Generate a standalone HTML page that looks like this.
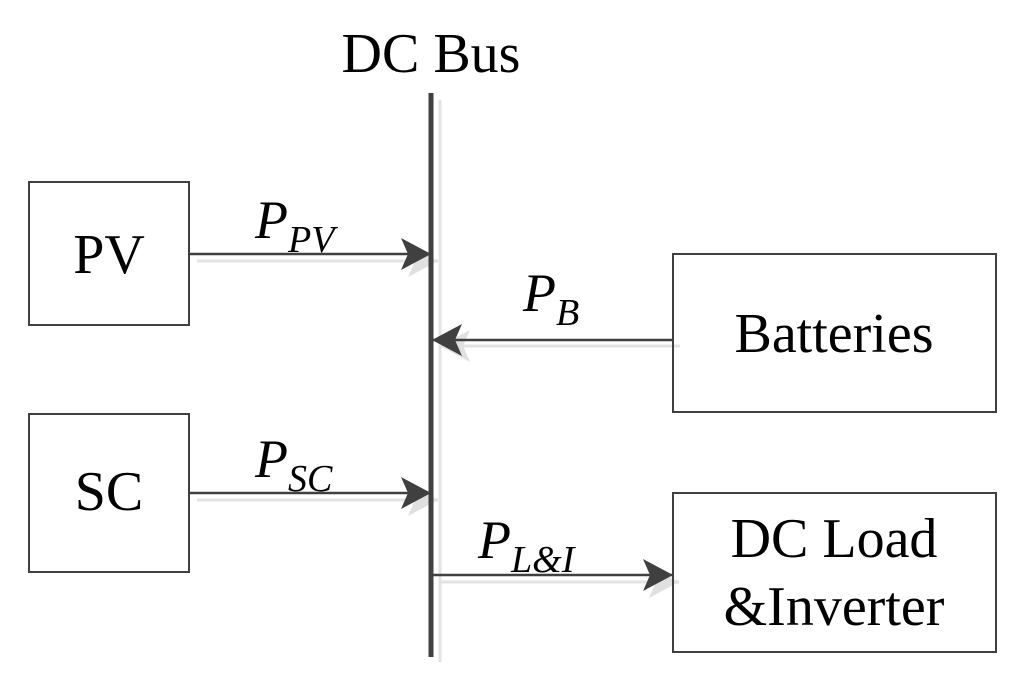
<!DOCTYPE html>
<html><head><style>html,body{margin:0;padding:0;background:#fff}</style></head>
<body>
<svg width="1024" height="684" viewBox="0 0 1024 684" xmlns="http://www.w3.org/2000/svg" font-family="Liberation Serif, serif">
<defs>
<marker id="a" markerWidth="30" markerHeight="32" refX="30" refY="16" orient="auto" markerUnits="userSpaceOnUse"><path d="M0,0 L30,16 L0,32 L7,16 Z" fill="#404040"/></marker>
<marker id="s" markerWidth="30" markerHeight="32" refX="30" refY="16" orient="auto" markerUnits="userSpaceOnUse"><path d="M0,0 L30,16 L0,32 L7,16 Z" fill="#e0e0e0"/></marker>
</defs>
<g stroke="#e3e3e3" stroke-width="3" fill="none">
<line x1="440" y1="100" x2="440" y2="662"/>
<line x1="197" y1="261" x2="438" y2="261" marker-end="url(#s)"/>
<line x1="197" y1="500" x2="438" y2="500" marker-end="url(#s)"/>
<line x1="680" y1="346" x2="440" y2="346" marker-end="url(#s)"/>
<line x1="440" y1="582" x2="679" y2="582" marker-end="url(#s)"/>
</g>
<g stroke="#404040" fill="none" stroke-width="2">
<rect x="29" y="182" width="160" height="143"/>
<rect x="29" y="414" width="160" height="158"/>
<rect x="673" y="254" width="323" height="158"/>
<rect x="673" y="493" width="323" height="159"/>
</g>
<line x1="431" y1="93" x2="431" y2="657" stroke="#404040" stroke-width="5"/>
<g stroke="#404040" stroke-width="2.5">
<line x1="189" y1="254" x2="431" y2="254" marker-end="url(#a)"/>
<line x1="189" y1="493" x2="431" y2="493" marker-end="url(#a)"/>
<line x1="673" y1="340" x2="432" y2="340" marker-end="url(#a)"/>
<line x1="433" y1="575" x2="673" y2="575" marker-end="url(#a)"/>
</g>
<g fill="#000" font-size="56" text-anchor="middle">
<text x="431" y="72">DC Bus</text>
<text x="109" y="273">PV</text>
<text x="109" y="510">SC</text>
<text x="834" y="352">Batteries</text>
<text x="834" y="557">DC Load</text>
<text x="834" y="625">&amp;Inverter</text>
</g>
<g fill="#000" font-style="italic">
<text x="255" y="238" font-size="54">P<tspan font-size="38" dy="14">PV</tspan></text>
<text x="523" y="311" font-size="54">P<tspan font-size="38" dy="14">B</tspan></text>
<text x="255" y="477" font-size="54">P<tspan font-size="38" dy="14">SC</tspan></text>
<text x="478" y="558" font-size="54">P<tspan font-size="38" dy="14">L&amp;I</tspan></text>
</g>
</svg>
</body></html>
